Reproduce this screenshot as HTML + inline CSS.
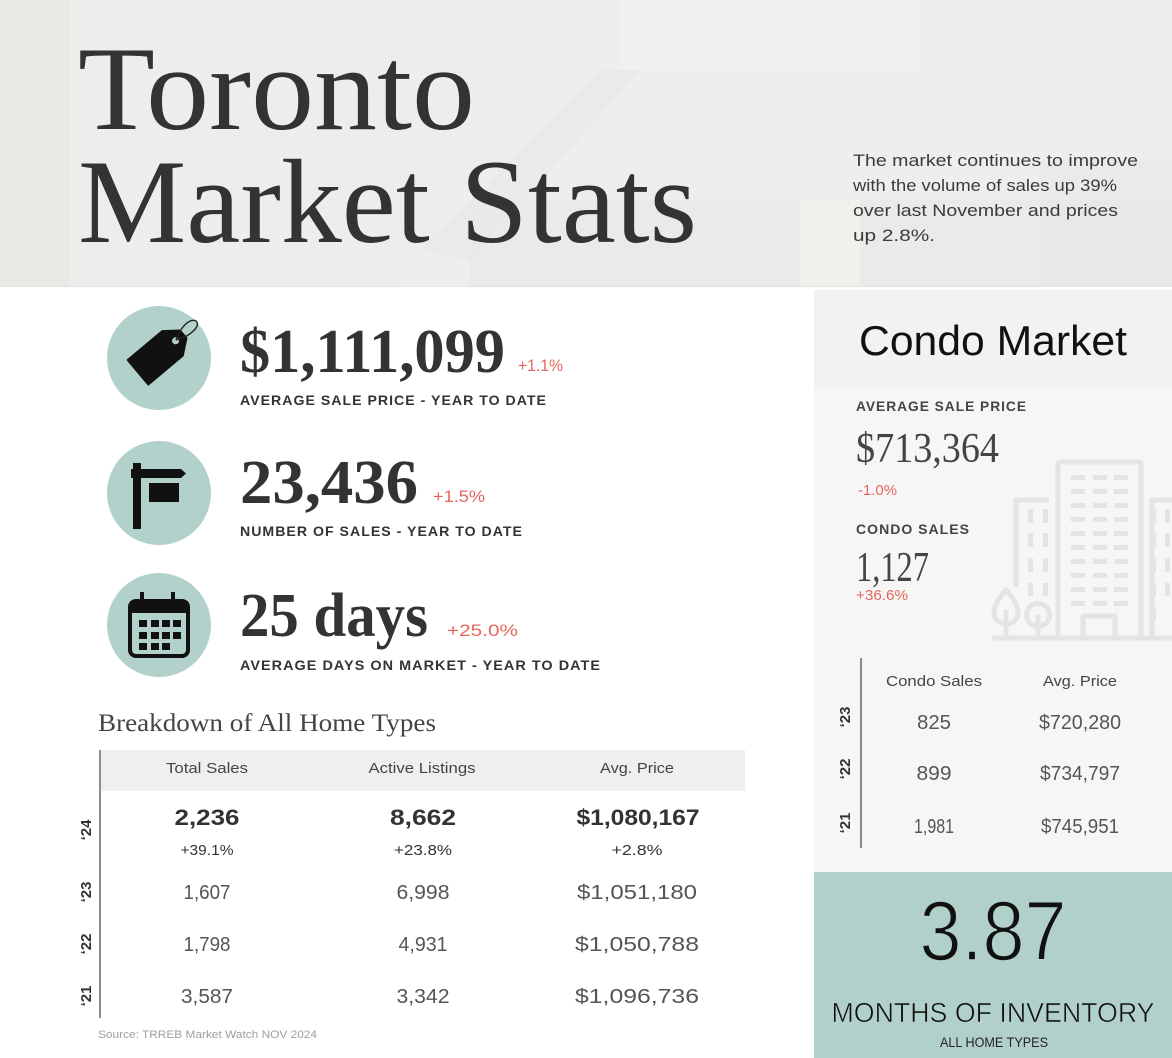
<!DOCTYPE html>
<html>
<head>
<meta charset="utf-8">
<style>
  html,body{margin:0;padding:0;background:#ffffff;}
  svg{display:block;}
  .sans{font-family:"Liberation Sans",Arial,sans-serif;}
  .serif{font-family:"Liberation Serif","Times New Roman",serif;}
</style>
</head>
<body>
<svg width="1172" height="1058" viewBox="0 0 1172 1058" xmlns="http://www.w3.org/2000/svg">
  <!-- page background -->
  <rect x="0" y="0" width="1172" height="1058" fill="#ffffff"/>

  <!-- HEADER -->
  <rect x="0" y="0" width="1172" height="287" fill="#eeedeb"/>
  <!-- faint background imagery -->
  <rect x="0" y="0" width="70" height="287" fill="#e8e7e5" opacity="0.8"/>
  <polygon points="400,287 560,40 620,0 1172,0 1172,287" fill="#f0efed" opacity="0.6"/>
  <polygon points="420,250 600,70 640,70 470,260" fill="#e6e5e3" opacity="0.5"/>
  <rect x="620" y="0" width="300" height="70" fill="#f2f1ef" opacity="0.7"/>
  <rect x="470" y="200" width="702" height="87" fill="#e9e8e6" opacity="0.6"/>
  <rect x="800" y="200" width="60" height="87" fill="#f3f2f0" opacity="0.7"/>
  <rect x="1040" y="160" width="132" height="127" fill="#e7e6e4" opacity="0.5"/>
  <rect x="0" y="286" width="1172" height="1" fill="#e2e1df"/>

  <text class="serif" x="78" y="129" font-size="120" fill="#333335" textLength="397" lengthAdjust="spacingAndGlyphs">Toronto</text>
  <text class="serif" x="78" y="242" font-size="120" fill="#333335" textLength="619" lengthAdjust="spacingAndGlyphs">Market Stats</text>

  <g class="sans" font-size="16.5" fill="#3b3b3b">
    <text x="853" y="166" textLength="285" lengthAdjust="spacingAndGlyphs">The market continues to improve</text>
    <text x="853" y="191" textLength="264" lengthAdjust="spacingAndGlyphs">with the volume of sales up 39%</text>
    <text x="853" y="216" textLength="265" lengthAdjust="spacingAndGlyphs">over last November and prices</text>
    <text x="853" y="241" textLength="82" lengthAdjust="spacingAndGlyphs">up 2.8%.</text>
  </g>

  <!-- LEFT STATS -->
  <circle cx="159" cy="358" r="52" fill="#b2d1cb"/>
  <circle cx="159" cy="493" r="52" fill="#b2d1cb"/>
  <circle cx="159" cy="625" r="52" fill="#b2d1cb"/>

  <!-- tag icon -->
  <g transform="translate(161,353) rotate(-40)">
    <polygon points="-30,-16 15,-16 29,-5 29,5 15,16 -30,16" fill="#111" stroke="#111" stroke-width="2" stroke-linejoin="round"/>
    <circle cx="19" cy="0" r="3.5" fill="#b2d1cb"/>
  </g>
  <path d="M176,340 C180,327 190,318 196,321 C201,325 192,336 176,340" fill="none" stroke="#222" stroke-width="1.4"/>

  <!-- sign icon -->
  <rect x="133" y="463" width="8" height="66" fill="#111"/>
  <polygon points="131,469 181,469 186,473.5 181,478 131,478" fill="#111"/>
  <rect x="149" y="483" width="30" height="19" fill="#111"/>

  <!-- calendar icon -->
  <rect x="130" y="601" width="58" height="55" rx="6" fill="none" stroke="#111" stroke-width="4"/>
  <rect x="130" y="601" width="58" height="12" fill="#111"/>
  <rect x="140" y="592" width="4" height="13" fill="#111"/>
  <rect x="171" y="592" width="4" height="13" fill="#111"/>
  <g fill="#111">
    <rect x="139" y="620" width="8" height="7"/><rect x="151" y="620" width="8" height="7"/><rect x="162" y="620" width="8" height="7"/><rect x="173" y="620" width="8" height="7"/>
    <rect x="139" y="632" width="8" height="7"/><rect x="151" y="632" width="8" height="7"/><rect x="162" y="632" width="8" height="7"/><rect x="173" y="632" width="8" height="7"/>
    <rect x="139" y="643" width="8" height="7"/><rect x="151" y="643" width="8" height="7"/><rect x="162" y="643" width="8" height="7"/>
  </g>

  <text class="serif" x="240" y="372" font-size="62" font-weight="bold" fill="#333" textLength="265" lengthAdjust="spacingAndGlyphs">$1,111,099</text>
  <text class="sans" x="518" y="371" font-size="17" fill="#e5675c" textLength="45" lengthAdjust="spacingAndGlyphs">+1.1%</text>
  <text class="sans" x="240" y="405" font-size="14" font-weight="bold" fill="#333" textLength="307" lengthAdjust="spacingAndGlyphs" letter-spacing="1">AVERAGE SALE PRICE - YEAR TO DATE</text>

  <text class="serif" x="240" y="503" font-size="62" font-weight="bold" fill="#333" textLength="178" lengthAdjust="spacingAndGlyphs">23,436</text>
  <text class="sans" x="433" y="502" font-size="17" fill="#e5675c" textLength="52" lengthAdjust="spacingAndGlyphs">+1.5%</text>
  <text class="sans" x="240" y="536" font-size="14" font-weight="bold" fill="#333" textLength="283" lengthAdjust="spacingAndGlyphs" letter-spacing="1">NUMBER OF SALES - YEAR TO DATE</text>

  <text class="serif" x="240" y="636" font-size="62" font-weight="bold" fill="#333" textLength="188" lengthAdjust="spacingAndGlyphs">25 days</text>
  <text class="sans" x="447" y="636" font-size="17" fill="#e5675c" textLength="71" lengthAdjust="spacingAndGlyphs">+25.0%</text>
  <text class="sans" x="240" y="670" font-size="14" font-weight="bold" fill="#333" textLength="361" lengthAdjust="spacingAndGlyphs" letter-spacing="1">AVERAGE DAYS ON MARKET - YEAR TO DATE</text>

  <!-- BREAKDOWN TABLE -->
  <text class="serif" x="98" y="731" font-size="25" fill="#444" textLength="338" lengthAdjust="spacingAndGlyphs">Breakdown of All Home Types</text>
  <rect x="101" y="750" width="644" height="41" fill="#efefee"/>
  <line x1="100" y1="750" x2="100" y2="1018" stroke="#666" stroke-width="1.5"/>

  <g class="sans" font-size="15" fill="#444" text-anchor="middle">
    <text x="207" y="773" textLength="82" lengthAdjust="spacingAndGlyphs">Total Sales</text>
    <text x="422" y="773" textLength="107" lengthAdjust="spacingAndGlyphs">Active Listings</text>
    <text x="637" y="773" textLength="74" lengthAdjust="spacingAndGlyphs">Avg. Price</text>
  </g>

  <g class="sans" font-size="22" font-weight="bold" fill="#333" text-anchor="middle">
    <text x="207" y="825" textLength="65" lengthAdjust="spacingAndGlyphs">2,236</text>
    <text x="423" y="825" textLength="66" lengthAdjust="spacingAndGlyphs">8,662</text>
    <text x="638" y="825" textLength="123" lengthAdjust="spacingAndGlyphs">$1,080,167</text>
  </g>
  <g class="sans" font-size="15" fill="#333" text-anchor="middle">
    <text x="207" y="855" textLength="53" lengthAdjust="spacingAndGlyphs">+39.1%</text>
    <text x="423" y="855" textLength="58" lengthAdjust="spacingAndGlyphs">+23.8%</text>
    <text x="637" y="855" textLength="51" lengthAdjust="spacingAndGlyphs">+2.8%</text>
  </g>
  <g class="sans" font-size="20" fill="#555" text-anchor="middle">
    <text x="207" y="899" textLength="47" lengthAdjust="spacingAndGlyphs">1,607</text>
    <text x="423" y="899" textLength="53" lengthAdjust="spacingAndGlyphs">6,998</text>
    <text x="637" y="899" textLength="120" lengthAdjust="spacingAndGlyphs">$1,051,180</text>
    <text x="207" y="951" textLength="47" lengthAdjust="spacingAndGlyphs">1,798</text>
    <text x="423" y="951" textLength="49" lengthAdjust="spacingAndGlyphs">4,931</text>
    <text x="637" y="951" textLength="124" lengthAdjust="spacingAndGlyphs">$1,050,788</text>
    <text x="207" y="1003" textLength="52" lengthAdjust="spacingAndGlyphs">3,587</text>
    <text x="423" y="1003" textLength="53" lengthAdjust="spacingAndGlyphs">3,342</text>
    <text x="637" y="1003" textLength="124" lengthAdjust="spacingAndGlyphs">$1,096,736</text>
  </g>
  <g class="sans" font-size="15" font-weight="bold" fill="#333" text-anchor="middle">
    <text transform="translate(91,830) rotate(-90)">‘24</text>
    <text transform="translate(91,892) rotate(-90)">‘23</text>
    <text transform="translate(91,944) rotate(-90)">‘22</text>
    <text transform="translate(91,996) rotate(-90)">‘21</text>
  </g>
  <text class="sans" x="98" y="1038" font-size="11" fill="#9e9e9e" textLength="219" lengthAdjust="spacingAndGlyphs">Source: TRREB Market Watch NOV 2024</text>

  <!-- RIGHT PANEL -->
  <rect x="814" y="290" width="358" height="97" fill="#f1f2f4"/>
  <rect x="814" y="387" width="358" height="485" fill="#f6f6f6"/>
  <rect x="814" y="872" width="358" height="186" fill="#b2d0ca"/>

  <!-- building icon -->
  <g stroke="#e3e4e4" stroke-width="5" fill="none" stroke-linejoin="round">
    <rect x="1058" y="462" width="83" height="176" rx="2"/>
    <path d="M1016,587 V500 H1049"/>
    <path d="M1152,638 V500 H1172"/>
    <rect x="1083" y="616" width="32" height="22"/>
    <line x1="992" y1="638" x2="1172" y2="638"/>
    <path d="M1006,590 C1015,600 1018,608 1018,613 C1018,620 1012,624 1006,624 C1000,624 994,620 994,613 C994,608 997,600 1006,590 Z"/>
    <line x1="1006" y1="610" x2="1006" y2="638"/>
    <circle cx="1038" cy="615" r="11.5"/>
    <line x1="1038" y1="615" x2="1038" y2="638"/>
  </g>
  <g fill="#e3e4e4">
    <g id="wrow">
      <rect x="1071" y="475" width="14" height="5"/><rect x="1093" y="475" width="14" height="5"/><rect x="1114" y="475" width="14" height="5"/>
    </g>
    <use href="#wrow" y="14"/><use href="#wrow" y="28"/><use href="#wrow" y="42"/><use href="#wrow" y="56"/>
    <use href="#wrow" y="70"/><use href="#wrow" y="84"/><use href="#wrow" y="98"/><use href="#wrow" y="112"/><use href="#wrow" y="126"/>
    <rect x="1028" y="509" width="5" height="14"/><rect x="1043" y="509" width="5" height="14"/>
    <rect x="1028" y="533" width="5" height="14"/><rect x="1043" y="533" width="5" height="14"/>
    <rect x="1028" y="558" width="5" height="14"/><rect x="1043" y="558" width="5" height="14"/>
    <rect x="1028" y="583" width="5" height="13"/><rect x="1043" y="583" width="5" height="13"/>
    <rect x="1151" y="509" width="5" height="14"/><rect x="1165" y="509" width="5" height="14"/>
    <rect x="1151" y="533" width="5" height="14"/><rect x="1165" y="533" width="5" height="14"/>
    <rect x="1151" y="558" width="5" height="14"/><rect x="1165" y="558" width="5" height="14"/>
    <rect x="1151" y="583" width="5" height="13"/><rect x="1165" y="583" width="5" height="13"/>
    <rect x="1151" y="607" width="5" height="13"/>
  </g>

  <text class="sans" x="859" y="355" font-size="42" fill="#111" textLength="268" lengthAdjust="spacingAndGlyphs">Condo Market</text>

  <text class="sans" x="856" y="411" font-size="14" font-weight="bold" fill="#444" textLength="171" lengthAdjust="spacingAndGlyphs" letter-spacing="1">AVERAGE SALE PRICE</text>
  <text class="serif" x="856" y="462" font-size="42" fill="#444" textLength="143" lengthAdjust="spacingAndGlyphs">$713,364</text>
  <text class="sans" x="858" y="495" font-size="15" fill="#e5675c" textLength="39" lengthAdjust="spacingAndGlyphs">-1.0%</text>
  <text class="sans" x="856" y="534" font-size="14" font-weight="bold" fill="#444" textLength="114" lengthAdjust="spacingAndGlyphs" letter-spacing="1">CONDO SALES</text>
  <text class="serif" x="856" y="581" font-size="42" fill="#444" textLength="73" lengthAdjust="spacingAndGlyphs">1,127</text>
  <text class="sans" x="856" y="600" font-size="15" fill="#e5675c" textLength="52" lengthAdjust="spacingAndGlyphs">+36.6%</text>

  <!-- condo table -->
  <line x1="861" y1="658" x2="861" y2="848" stroke="#666" stroke-width="1.5"/>
  <g class="sans" font-size="15" fill="#444" text-anchor="middle">
    <text x="934" y="686" textLength="96" lengthAdjust="spacingAndGlyphs">Condo Sales</text>
    <text x="1080" y="686" textLength="74" lengthAdjust="spacingAndGlyphs">Avg. Price</text>
  </g>
  <g class="sans" font-size="20" fill="#555" text-anchor="middle">
    <text x="934" y="729" textLength="34" lengthAdjust="spacingAndGlyphs">825</text>
    <text x="1080" y="729" textLength="82" lengthAdjust="spacingAndGlyphs">$720,280</text>
    <text x="934" y="780" textLength="35" lengthAdjust="spacingAndGlyphs">899</text>
    <text x="1080" y="780" textLength="80" lengthAdjust="spacingAndGlyphs">$734,797</text>
    <text x="934" y="833" textLength="40" lengthAdjust="spacingAndGlyphs">1,981</text>
    <text x="1080" y="833" textLength="78" lengthAdjust="spacingAndGlyphs">$745,951</text>
  </g>
  <g class="sans" font-size="15" font-weight="bold" fill="#333" text-anchor="middle">
    <text transform="translate(850,717) rotate(-90)">‘23</text>
    <text transform="translate(850,769) rotate(-90)">‘22</text>
    <text transform="translate(850,823) rotate(-90)">‘21</text>
  </g>

  <!-- months of inventory -->
  <text class="sans" x="993" y="960" font-size="84" fill="#111" stroke="#b2d0ca" stroke-width="1.6" text-anchor="middle" textLength="147" lengthAdjust="spacingAndGlyphs">3.87</text>
  <text class="sans" x="993" y="1022" font-size="28" fill="#111" stroke="#b2d0ca" stroke-width="0.6" text-anchor="middle" textLength="323" lengthAdjust="spacingAndGlyphs">MONTHS OF INVENTORY</text>
  <text class="sans" x="994" y="1047" font-size="13.5" fill="#222" text-anchor="middle" textLength="108" lengthAdjust="spacingAndGlyphs">ALL HOME TYPES</text>
</svg>
</body>
</html>
